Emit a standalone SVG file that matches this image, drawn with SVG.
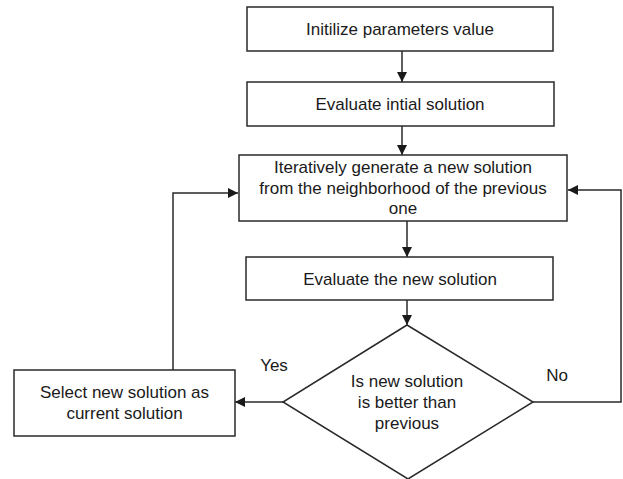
<svg xmlns="http://www.w3.org/2000/svg" width="623" height="479" viewBox="0 0 623 479">
<style>
.n{fill:#fff;stroke:#2a2a2a;stroke-width:1.5}
.t{font-family:"Liberation Sans",Arial,sans-serif;font-size:17px;fill:#1a1a1a;text-anchor:middle}
.c{fill:none;stroke:#2a2a2a;stroke-width:1.5}
</style>
<defs>
<marker id="a" viewBox="0 0 10 10" refX="10" refY="5" markerWidth="10" markerHeight="10" markerUnits="userSpaceOnUse" orient="auto">
<path d="M0,0 L10,5 L0,10 Z" fill="#1a1a1a"/>
</marker>
</defs>
<rect width="623" height="479" fill="#fff"/>
<g id="connectors">
<path class="c" d="M402,51 V82" marker-end="url(#a)"/>
<path class="c" d="M402,126 V155" marker-end="url(#a)"/>
<path class="c" d="M407,221 V257" marker-end="url(#a)"/>
<path class="c" d="M407,300 V325" marker-end="url(#a)"/>
<path class="c" d="M283,402 H235" marker-end="url(#a)"/>
<path class="c" d="M173,370 V193 H238" marker-end="url(#a)"/>
<path class="c" d="M533,402 H621 V190 H568" marker-end="url(#a)"/>
</g>
<g id="n1">
<rect class="n" x="247" y="7" width="306" height="44"/>
<text class="t" x="400" y="35">Initilize parameters value</text>
</g>
<g id="n2">
<rect class="n" x="247" y="82" width="307" height="44"/>
<text class="t" x="400" y="110">Evaluate intial solution</text>
</g>
<g id="n3">
<rect class="n" x="239" y="155" width="328" height="66"/>
<text class="t" x="403" y="173">Iteratively generate a new solution</text>
<text class="t" x="403" y="194">from the neighborhood of the previous</text>
<text class="t" x="403" y="214">one</text>
</g>
<g id="n4">
<rect class="n" x="246" y="257" width="307" height="43"/>
<text class="t" x="400" y="285">Evaluate the new solution</text>
</g>
<g id="n5">
<path class="n" d="M407,325 L533,402 L408,479 L283,402 Z"/>
<text class="t" x="407" y="387">Is new solution</text>
<text class="t" x="407" y="408">is better than</text>
<text class="t" x="407" y="429">previous</text>
</g>
<g id="n6">
<rect class="n" x="14" y="370" width="221" height="66"/>
<text class="t" x="124.5" y="398">Select new solution as</text>
<text class="t" x="124.5" y="419">current solution</text>
</g>
<g id="labels">
<text class="t" x="274" y="371">Yes</text>
<text class="t" x="557" y="381">No</text>
</g>
</svg>
